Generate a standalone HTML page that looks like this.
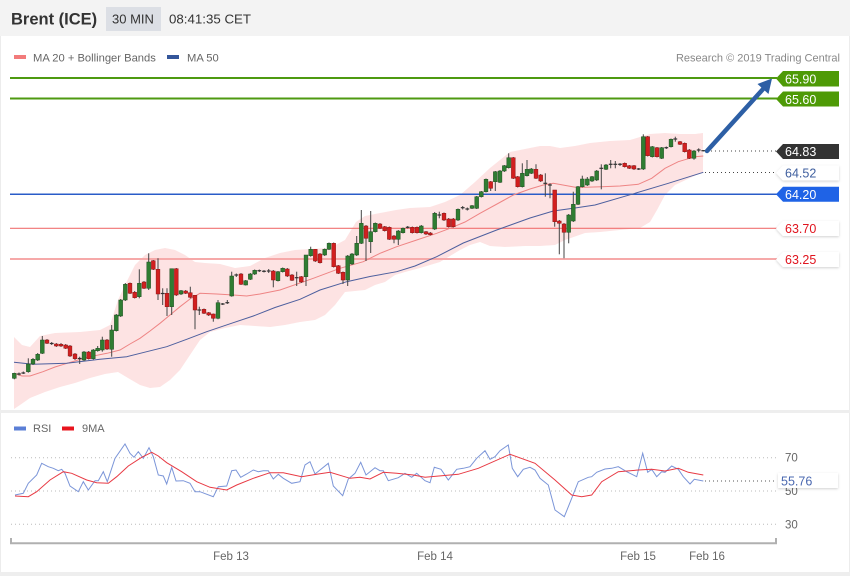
<!DOCTYPE html>
<html><head><meta charset="utf-8"><style>
html,body{margin:0;padding:0;background:#fff;}
body{width:850px;height:576px;overflow:hidden;font-family:"Liberation Sans",Arial,sans-serif;}
svg{display:block;}
text{font-family:"Liberation Sans",Arial,sans-serif;}
</style></head><body>
<svg id="s" width="850" height="576" viewBox="0 0 850 576" xmlns="http://www.w3.org/2000/svg">
<defs>
<filter id="sh" x="-20%" y="-30%" width="140%" height="170%"><feDropShadow dx="0" dy="1" stdDeviation="1.2" flood-color="#000" flood-opacity="0.18"/></filter>
</defs>
<rect x="0" y="0" width="850" height="576" fill="#fff"/>
<!-- header -->
<rect x="0" y="0" width="850" height="36" fill="#f3f3f3"/>
<text x="11" y="24.5" font-size="16.5" font-weight="bold" fill="#333">Brent (ICE)</text>
<rect x="106" y="7" width="55" height="24" fill="#dcdfe5"/>
<text x="112" y="23.5" font-size="13" fill="#333">30 MIN</text>
<text x="169" y="23.5" font-size="13.3" fill="#333">08:41:35 CET</text>
<!-- borders -->
<line x1="0.5" y1="36" x2="0.5" y2="576" stroke="#ececec"/>
<line x1="849.5" y1="36" x2="849.5" y2="576" stroke="#ececec"/>
<rect x="0" y="410" width="850" height="3" fill="#eeeeee"/>
<rect x="0" y="572" width="850" height="4" fill="#eeeeee"/>
<!-- legend -->
<rect x="14" y="55" width="12" height="4" fill="#f27b7b"/>
<text x="33" y="61.5" font-size="11.2" fill="#666">MA 20 + Bollinger Bands</text>
<rect x="167" y="55" width="12" height="4" fill="#34569a"/>
<text x="187" y="61.5" font-size="11.2" fill="#666">MA 50</text>
<text x="840" y="61.5" font-size="11" fill="#888" text-anchor="end">Research © 2019 Trading Central</text>

<!-- bollinger band -->
<polygon fill="#fde3e3" points="14,337 22,345 30,347 40,336 55,333 80,332 100,330 110,325 118,300 125,285 135,265 145,255 155,250 165,248 175,250 185,255 195,262 205,263 220,264 235,268 250,266 265,258 280,253 295,250 310,249 330,248 345,240 356,222 365,216 380,213 396,210 410,208 430,207 445,202 460,195 475,182 490,168 500,160 510,152 525,149 540,146 550,146 560,148 575,146 590,143 610,141 630,140 640,137 650,134 665,133 680,134 695,134 703,133 703,172 690,178 675,185 665,195 657,210 650,222 640,228 620,230 600,232 585,233 565,240 555,245 540,246 525,246 505,247 490,246 480,242 470,245 460,250 450,256 440,262 430,265 420,268 405,272 395,275 385,282 375,285 365,290 355,291 345,292 335,305 325,315 315,320 300,322 285,325 270,327 255,326 240,325 225,328 210,332 200,340 190,355 180,370 170,380 160,387 150,388 140,385 128,378 118,372 105,374 90,378 75,383 60,387 45,392 30,398 20,405 14,409"/>

<!-- horizontal levels -->
<line x1="10" y1="78" x2="777" y2="78" stroke="#4e9a10" stroke-width="2"/>
<line x1="10" y1="98.5" x2="777" y2="98.5" stroke="#4e9a10" stroke-width="2"/>
<line x1="10" y1="194.3" x2="777" y2="194.3" stroke="#2a5cc8" stroke-width="1.5"/>
<line x1="10" y1="228.3" x2="777" y2="228.3" stroke="#f07272" stroke-width="1.2"/>
<line x1="10" y1="259" x2="777" y2="259" stroke="#f6a9a9" stroke-width="2"/>
<line x1="707" y1="151" x2="777" y2="151" stroke="#444" stroke-width="1" stroke-dasharray="1 3"/>
<line x1="705" y1="172.5" x2="777" y2="172.5" stroke="#444" stroke-width="1" stroke-dasharray="1 3"/>

<!-- MA lines -->
<polyline fill="none" stroke="#ee8484" stroke-width="1" points="14,373.3 22,376 30,376 43,371.7 55,367 67,363.3 87,357.3 107,353.3 120,350 130,344 140,338.3 150,331 160,323.3 170,315 180,306.7 190,299 200,293.3 216.7,294 233.3,295 246.7,296 260,294 280,290 313.3,278.3 340,268.3 363.3,261.7 380,253.3 396.7,246.7 416.7,240 436.7,233.3 450,228.3 465,222 480,213.3 497,204 513.3,195 530,189 543.3,185 553.3,183.3 576.7,187.5 601.7,186.7 620,186 638.3,184.3 651.7,178.3 665,168.3 678.3,161.7 695,156.7 703.3,156"/>
<polyline fill="none" stroke="#4d5f9e" stroke-width="1" points="14,362.3 33,364.3 66.7,363.3 100,359.3 126.7,356.7 146.7,351.7 166.7,346.7 186.7,339.3 206.7,331.7 233.3,322.7 253.3,316 275,307.5 300,299.3 320,290 346.7,281.7 370,276.5 396.7,271.7 415,266 436.7,256.7 463.3,243 496.7,230 530,218 553.3,211 575,208 595,205 635,193.3 668.3,183.3 703.3,172.3"/>

<g id="candles"></g>

<!-- arrow -->
<line x1="707" y1="151" x2="764" y2="88" stroke="#2d5fa5" stroke-width="4.5" stroke-linecap="round"/>
<polygon points="772,78.5 757.5,84 768.5,94" fill="#2d5fa5"/>

<!-- price labels -->
<polygon points="776,78.5 783,71 839,71 839,86.5 783,86.5" fill="#4e9a06"/>
<text x="785" y="83.3" font-size="12.5" fill="#fff">65.90</text>
<polygon points="776,99 783,91.5 839,91.5 839,106.5 783,106.5" fill="#4e9a06"/>
<text x="785" y="103.8" font-size="12.5" fill="#fff">65.60</text>
<polygon points="776,151.5 783,144 839,144 839,159 783,159" fill="#333333"/>
<text x="785" y="156" font-size="12.5" fill="#fff">64.83</text>
<polygon filter="url(#sh)" points="776,173 783,165.5 839,165.5 839,180.5 783,180.5" fill="#fff"/>
<text x="785" y="177.3" font-size="12.5" fill="#3f5f9f">64.52</text>
<polygon points="776,194.3 783,186.8 839,186.8 839,201.8 783,201.8" fill="#1f63e6"/>
<text x="785" y="199" font-size="12.5" fill="#fff">64.20</text>
<polygon filter="url(#sh)" points="776,228.5 783,221 839,221 839,236 783,236" fill="#fff"/>
<text x="785" y="233" font-size="12.5" fill="#e0141e">63.70</text>
<polygon filter="url(#sh)" points="776,259.5 783,252 839,252 839,267 783,267" fill="#fff"/>
<text x="785" y="264" font-size="12.5" fill="#e0141e">63.25</text>

<!-- RSI panel -->
<rect x="14" y="426.5" width="12" height="4" fill="#5b7fd6"/>
<text x="33" y="432" font-size="11" fill="#666">RSI</text>
<rect x="62" y="426.5" width="12" height="4" fill="#e8141e"/>
<text x="82" y="432" font-size="11" fill="#666">9MA</text>

<line x1="11" y1="457.7" x2="776" y2="457.7" stroke="#bbb" stroke-width="1" stroke-dasharray="1 3"/>
<line x1="11" y1="491" x2="776" y2="491" stroke="#bbb" stroke-width="1" stroke-dasharray="1 3"/>
<line x1="11" y1="524.3" x2="776" y2="524.3" stroke="#bbb" stroke-width="1" stroke-dasharray="1 3"/>
<text x="785" y="461.5" font-size="11.5" fill="#666">70</text>
<text x="785" y="495" font-size="11.5" fill="#666">50</text>
<text x="785" y="528.3" font-size="11.5" fill="#666">30</text>

<polyline fill="none" stroke="#7b95d8" stroke-width="1" points="15,495 23.3,493.3 28.3,483.3 36.7,475 41.7,463.3 48.3,466.7 53.3,468.3 58.3,470.7 61.7,469.3 65,473.3 70,486 78.3,491.7 83.3,481.7 88.3,490 95,480.7 98.3,480.7 103.3,471.7 107.3,481.7 115,458.3 125,444 130,453.3 134,457.3 138.3,451.7 143.3,458.3 149,447.7 153.3,456.7 158.3,475 163.3,476 166.7,484 171.7,467.3 176,481 183.3,480.7 190,483.3 195,491.7 200,491.7 213.3,496.7 218.3,486.7 226.7,486 231.7,470.7 236,470 240.7,477.3 246.7,474 253.3,470 258.3,471.7 263.3,470.7 268.3,470.7 273.3,479 278.3,474.3 283.3,478.3 291.7,483.3 300,481.7 305,465 310,461.7 315,474 320,470 328.3,463.3 333.3,486 342.7,495.7 348.3,479 355,473.3 360.7,462.3 366,475 375,467.7 380,470.7 383.3,470.7 388.3,480.7 398.3,477.7 405,473.3 411.7,477.3 416.7,473.3 425,480.7 430,482.7 434.3,467.3 441,469.3 448.3,480 456.7,469.3 463.3,468.3 470,466.7 476.7,458.3 485,450.7 490,459.3 495,456.7 500,450.7 508.3,445 512.3,468.3 517.7,476.7 523.3,469.3 530,467.3 535,470 540,478.3 548.3,485 555,510 564.3,516.7 571.7,498.3 578.3,481.7 588.3,477.3 591.7,476.7 596.7,472.3 605,469 611.7,468.3 618.3,466.7 626.7,471.7 636.7,476.7 642.7,453.3 647.7,472.3 651.7,469.3 656.7,476.7 661.7,471.7 665,472.3 671.7,466 678.3,469.3 683.3,476.7 690,484 694.3,479.3 703.3,481"/>
<polyline fill="none" stroke="#e83a44" stroke-width="1" points="15,496 28.3,496.7 36.7,491.7 50,480 63.3,471.7 71.7,473.3 86.7,480 96.7,482.7 108.3,483.3 116.7,476.7 128.3,466 141.7,457.3 151.7,452.3 158.3,456 166.7,462.7 181.7,471.7 196.7,481.7 210,487.3 226.7,490 236.7,485 253.3,478.3 270,472.7 283.3,472.7 301.7,476.7 316.7,474.3 330,472.3 350,478.3 360,477.3 370,479 383.3,472.3 396.7,473.3 413.3,475 425,477.3 441.7,475.7 458.3,474.3 478.3,468.3 510,454.3 535,463.3 555,480 571.7,495 581.7,496.7 591.7,495 601.7,481.7 618.3,471.7 638.3,470 651.7,469.3 665,471 678.3,468.3 688.3,472.3 703.3,475"/>
<line x1="705" y1="481" x2="777" y2="481" stroke="#555" stroke-width="1" stroke-dasharray="1 3"/>
<rect filter="url(#sh)" x="778" y="473" width="60" height="15" fill="#fff"/>
<text x="781" y="485.3" font-size="12.5" fill="#4a68b0">55.76</text>

<!-- x axis -->
<path d="M11,538 L11,543.3 L776,543.3 L776,538" fill="none" stroke="#b0b0b0" stroke-width="2"/>
<text x="231" y="560" font-size="11.5" fill="#666" text-anchor="middle">Feb 13</text>
<text x="435" y="560" font-size="11.5" fill="#666" text-anchor="middle">Feb 14</text>
<text x="638" y="560" font-size="11.5" fill="#666" text-anchor="middle">Feb 15</text>
<text x="707" y="560" font-size="11.5" fill="#666" text-anchor="middle">Feb 16</text>
</svg>
<script>
(function(){
var D=[
[14.3,373.3,378.3,372.7,379.3,'g'],[19,373.3,374.7,372.5,375.5,'d'],[23.3,372.7,373.3,371.5,374,'d'],[28.3,364,371.7,358.3,372.7,'g'],[33,359.3,364,358,365,'g'],[37.7,354.3,360,353,361,'g'],[42.3,340,353.3,336,354,'g'],[47,340,343.3,339,344,'r'],[51.7,343,344,342,345,'d'],[56.3,344,346,343,347,'r'],
[61,344.3,346,343,347,'r'],[65.7,345,348.3,344,349,'r'],[70,346,356,345,357,'r'],[75,354,358.7,353,360,'r'],[79.7,358,359,356.7,364,'d'],[84,352,360,351,361,'g'],[88.7,352,358.7,351,359.5,'r'],[93.3,350,358.7,349,359.5,'g'],[97.7,348.3,350.7,346,351.7,'g'],[102.3,340,350,336.7,351.7,'g'],
[107,340,349,339,350,'r'],[111.7,330,349.3,325,356.7,'g'],[116.3,315,330.7,314,331.5,'g'],[120.7,300,316,299,317,'g'],[125.3,284.3,300,283,301,'g'],[130,283.3,293.3,282.5,294,'r'],[134.7,292.3,297.7,291,298.5,'r'],[139.3,283.3,296.7,269.3,298.3,'g'],[144,282,288.3,281,289,'r'],[148.7,262,288.3,253.3,290,'g'],
[153.3,260.7,269.3,260,270,'r'],[158,269.3,294,258.3,300,'r'],[162.7,293,294,288.3,305,'d'],[167,293.3,306.7,288.3,316,'r'],[171.7,268.7,306.7,268.7,315,'g'],[176.3,268.7,295,268,296,'r'],[181,290.7,294,290,295,'g'],[185.7,291,293.3,290,294,'r'],[190.3,292.7,297.3,286.7,298.3,'r'],[195,295.3,310,295,329.3,'r'],
[199.3,309.5,310.5,306.7,315,'d'],[204,309.3,313.3,308.5,314,'r'],[208.7,312.7,315,312,316,'r'],[213.3,314,318.3,313.5,321.7,'r'],[218,302.7,318.3,300,319.3,'g'],[222.7,303.5,304.5,303,305,'d'],[227.3,302.2,303.2,300,304,'d'],[231.7,276,296,271.7,296.7,'g'],[236.3,274.5,275.5,273.5,277,'d'],[241,274,284.3,273,285,'r'],
[245.7,280.7,285,280,285.5,'g'],[250.3,274,279.3,273,280,'g'],[254.7,270.3,274,269.5,275,'g'],[259.3,270.2,271.2,269.5,272,'d'],[264,270.8,271.8,270,272.5,'d'],[268.7,270.5,271.5,269,273,'d'],[273.3,271,280,270,287.3,'r'],[278,271.7,280.7,271,281.5,'g'],[282.7,268.3,271.7,267.5,272.5,'g'],[287.3,269,276,268,277,'r'],
[292,275,280.3,274,281,'r'],[296.7,277.2,278.2,271.7,286,'d'],[301.3,276.7,282,276,283,'r'],[306,255,276.7,255,286,'g'],[310.7,249.3,255.7,246.7,256.7,'g'],[315.3,249.3,261,249,262,'r'],[320,254,262.7,253,263.5,'r'],[324.7,249.3,255,248.5,256,'g'],[329,243.3,249.3,242.5,250,'g'],[333.7,243.3,266.7,242.5,267.5,'r'],
[338.3,265.7,273.3,265,274,'r'],[343,272.3,280,271.5,284,'r'],[347.7,256,280,255,286,'g'],[352,254,264,253,265,'g'],[356.7,243.3,255,236,256,'g'],[361.3,223.3,243.3,210,244,'g'],[366,226,238.3,225,261,'r'],[370.7,231.7,241.7,211,253,'g'],[375.3,223.3,231.7,222.5,232.5,'g'],[380,224,228.3,223,229,'r'],
[384.7,226.7,230.7,226,231.5,'r'],[389.3,227.3,239.3,226.5,240,'r'],[394,236,239.3,235,243.3,'r'],[398.3,231,239.3,230,245,'g'],[403,228.3,232.7,227.5,233.5,'g'],[407.7,226.8,227.8,226,228.5,'d'],[412.3,227.3,232.7,226.5,233.5,'r'],[417,227.3,232.7,226.5,233.5,'r'],[421.3,226,232.7,225,233.5,'g'],[426,231.7,234,231,235,'r'],
[430.3,233,234.7,232,235.5,'r'],[434.7,213.3,229,212,230,'g'],[439.3,214.5,215.5,211.7,218.3,'d'],[444,213.3,220,212.5,221,'r'],[448.7,219,226.7,218,227.5,'r'],[453.3,219,226.7,218,227.5,'r'],[458,209.3,220,208.5,221,'g'],[462.7,207.2,208.2,206,209.5,'d'],[467.3,208.5,209.5,207.5,210.5,'d'],[472,205.7,208.3,205,209,'g'],
[476.7,196.7,208.3,196,209,'g'],[481.3,191.7,196.7,191,197.5,'g'],[486,179.3,191.7,178.5,192.5,'g'],[490.7,181.7,188.3,181,191,'r'],[495.3,171.7,181.7,171,191,'g'],[500,171,182.3,170,183,'g'],[504.3,165.7,171,165,172,'g'],[508.7,157.7,167.7,153.3,168.5,'g'],[513.3,157.7,178.3,157,179,'r'],[517.7,176.7,186.7,176,187.5,'r'],
[522.3,173.3,186.7,163.3,187.5,'g'],[527,169.3,175.7,160,176.5,'g'],[531.3,169,173.3,168,174,'g'],[536,169.3,178.3,164.3,179,'r'],[540.7,175,181,174,182,'r'],[545.3,182.8,183.8,173.3,196.7,'d'],[550,184.5,185.5,183.3,198.3,'d'],[554.7,190,221.7,190,226.7,'r'],[559.3,221,223.3,220,254.3,'r'],[564,224,232.3,223,258.3,'r'],
[568.7,215,232.3,214,243.3,'g'],[573.3,204.3,221,191.7,222,'g'],[578,186.7,204.3,186,205,'g'],[582.3,179,186.7,175.7,187.5,'g'],[587.3,179,185,177,186,'g'],[592,176.7,181,176,182,'g'],[596.7,171,180,170,181,'g'],[601.3,167.8,168.8,164.3,189.3,'d'],[606,165,169.3,164,170,'g'],[610.7,163.8,164.8,160,168.3,'d'],
[615.3,163.8,164.8,161,168.3,'d'],[620,163.8,164.8,163,166,'d'],[624.7,163.3,166.7,162.5,167.5,'r'],[629.3,165.7,168.3,165,169,'r'],[634,165.7,169,165,170,'r'],[638.7,168.5,169.5,168,170,'d'],[643.3,136.7,169,134.3,170,'g'],[647.7,136.7,155.7,136,156.5,'r'],[652.3,146.7,156.7,146,157.5,'g'],[657,147.7,156.7,147,157.5,'r'],
[661.7,147.7,158.3,147,159,'g'],[666.3,147.2,148.2,146.5,149,'d'],[671,139.3,146.7,138.5,147.5,'g'],[675.3,138.5,139.5,136.7,141.7,'d'],[680,141.7,144.3,141,145,'r'],[684.7,143.3,151.7,142.5,152.5,'r'],[689.3,150,158.3,149,159,'r'],[694,151,158.3,150,159.7,'g'],[698.7,149.5,150.5,148.3,152.3,'d'],[703.3,150.2,151.2,150,151.5,'d']
];
var ns="http://www.w3.org/2000/svg",g=document.getElementById('candles');
function el(n,a){var e=document.createElementNS(ns,n);for(var k in a)e.setAttribute(k,a[k]);g.appendChild(e);}
D.forEach(function(c){
  var x=c[0];
  el('line',{x1:x,y1:c[3],x2:x,y2:c[4],stroke:'#444','stroke-width':1});
  if(c[5]==='d'){el('rect',{x:x-1.9,y:(c[1]+c[2])/2-0.6,width:3.8,height:1.2,fill:'#333'});}
  else{
    var h=Math.max(1,c[2]-c[1]);
    el('rect',{x:x-1.9,y:c[1],width:3.8,height:h,fill:c[5]==='g'?'#2f7d32':'#d21f1f',stroke:c[5]==='g'?'#1d4f20':'#8c1414','stroke-width':0.5});
  }
});
})();
</script>
</body></html>
